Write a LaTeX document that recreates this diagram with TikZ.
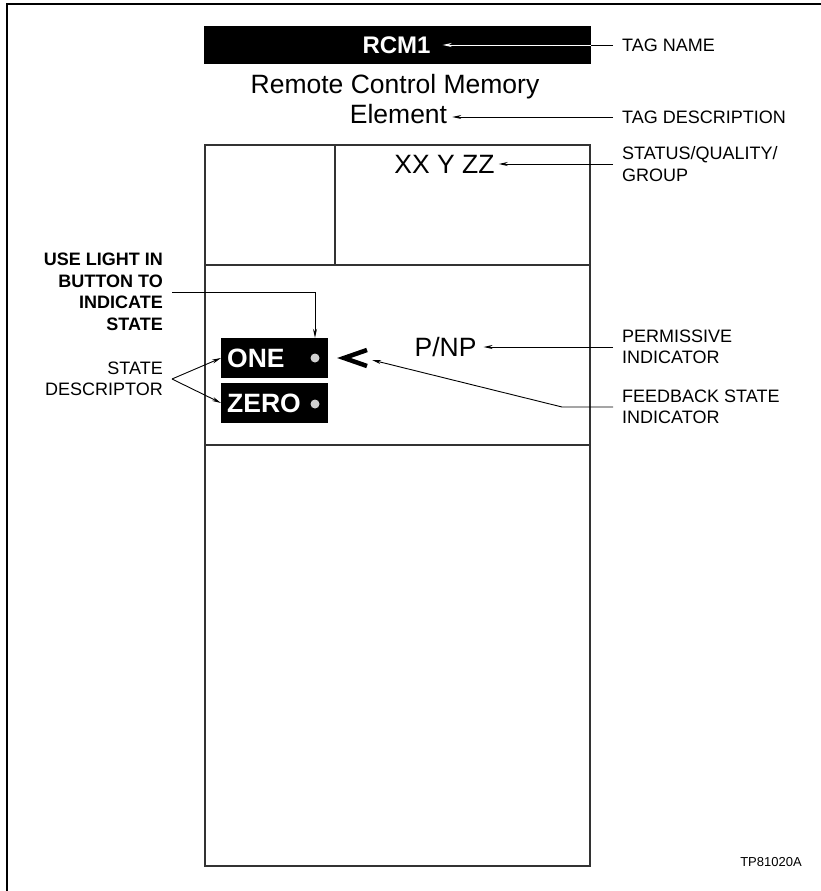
\documentclass[tikz,border=0pt]{standalone}
\usepackage{fontspec}
\setmainfont{Liberation Sans}
\usetikzlibrary{positioning}
\usetikzlibrary{calc, arrows.meta}
\newcommand{\labelfont}{\fontsize{18}{21.5}\selectfont}
\newcommand{\panelfont}{\fontsize{26.5}{30}\selectfont}
\newcommand{\tinyfont}{\fontsize{13}{15}\selectfont}

\begin{document}
\begin{tikzpicture}[x=1pt, y=-1pt, node distance=6pt]
        \labelfont
       \tikzstyle{callout} = [
            anchor=west,
            align=left,
            inner xsep=9pt,
            inner ysep=0pt
       ]
       \tikzstyle{sidenote} = [
            anchor=east,
            align=right,
            inner xsep=9pt,
            inner ysep=0pt
       ]
       \tikzstyle{paneltext} = [font=\panelfont, inner ysep=0pt]
       \tikzstyle{button} = [
            fill=black,
            text=white,
            font=\panelfont\bfseries,
            text width=95pt,
            inner xsep=6pt,
            minimum height=40pt,
            align=left,
            anchor=west
       ]
       \tikzstyle{lamp} = [circle, fill=black!18, minimum size=9pt, inner sep=0pt]
       \tikzstyle{panel} = [line width=1.1pt, draw=black!80]
       \tikzstyle{arrow} = [line width=0.9pt, -{Stealth[length=9pt, width=4pt]}]

       \useasboundingbox (0,0) rectangle (821,891);
       \draw[line width=1.3pt] (821,4) -- (7,4) -- (7,891);

       % faceplate
       \draw[panel] (205,145) rectangle (590,866);
       \draw[panel] (335,145) -- (335,265);
       \draw[panel] (205,265) -- (590,265);
       \draw[panel] (205,445) -- (590,445);

       \node (tagbar) [fill=black, minimum width=387pt, minimum height=38pt, inner sep=0pt] at (397.5,45) {};
       \node (rcmname) [font=\fontsize{24}{28}\selectfont\bfseries, text=white, inner xsep=12pt, inner ysep=0pt] at (396.5,45) {RCM1};
       \node (rcmdesc) [paneltext, anchor=base] at (395,93) {Remote Control Memory};
       \node (element) [paneltext, anchor=base, inner xsep=5pt] at (398.5,123) {Element};
       \node (xxyzz) [paneltext, inner xsep=4pt] at (444.5,164) {XX Y ZZ};
       \node (pnp) [paneltext, inner xsep=7pt] at (445.5,347) {P/NP};

       \node (onebtn) [button] at (221,358) {ONE};
       \node (zerobtn) [button] at (221,403) {ZERO};
       \node (onelight) [lamp] at (315,358) {};
       \node (zerolight) [lamp] at (315,404) {};
       \draw[line width=4.5pt] (367,350) -- (344,358) -- (367,366);
       \coordinate (fbtip) at (372,360);
       \coordinate (fbbend) at (562,407);

       \node (tagname) [callout] at (613,45) {TAG NAME};
       \node (tagdesc) [callout] at (613,117) {TAG DESCRIPTION};
       \node (statusq) [callout] at (613,164) {STATUS/QUALITY/\\GROUP};
       \node (permit) [callout] at (613,347) {PERMISSIVE\\INDICATOR};
       \node (fbstate) [callout] at (613,407) {FEEDBACK STATE\\INDICATOR};
       \node (uselight) [sidenote, font=\labelfont\bfseries] at (172,292) {USE LIGHT IN\\BUTTON TO\\INDICATE\\STATE};
       \node (statedesc) [sidenote] at (172,379) {STATE\\DESCRIPTOR};
       \node (drawno) [font=\tinyfont] at (771,862) {TP81020A};

       \draw[line width=0.9pt] (tagname.west) -- (tagbar.east);
       \draw[arrow, white] (tagbar.east) -- (rcmname.east);
       \draw[arrow] (tagdesc.west) -- (tagdesc.west -| element.east);
       \draw[arrow] (statusq.west) -- (statusq.west -| xxyzz.east);
       \draw[arrow] (permit.west) -- (permit.west -| pnp.east);
       \draw[arrow] (fbstate.west) -- (fbbend) -- (fbtip);
       \draw[arrow] (uselight.east) -| (onelight |- onebtn.north);
       \draw[arrow] (statedesc.east) -- (onebtn.west);
       \draw[arrow] (statedesc.east) -- (zerobtn.west);
    \end{tikzpicture}
\end{document}
